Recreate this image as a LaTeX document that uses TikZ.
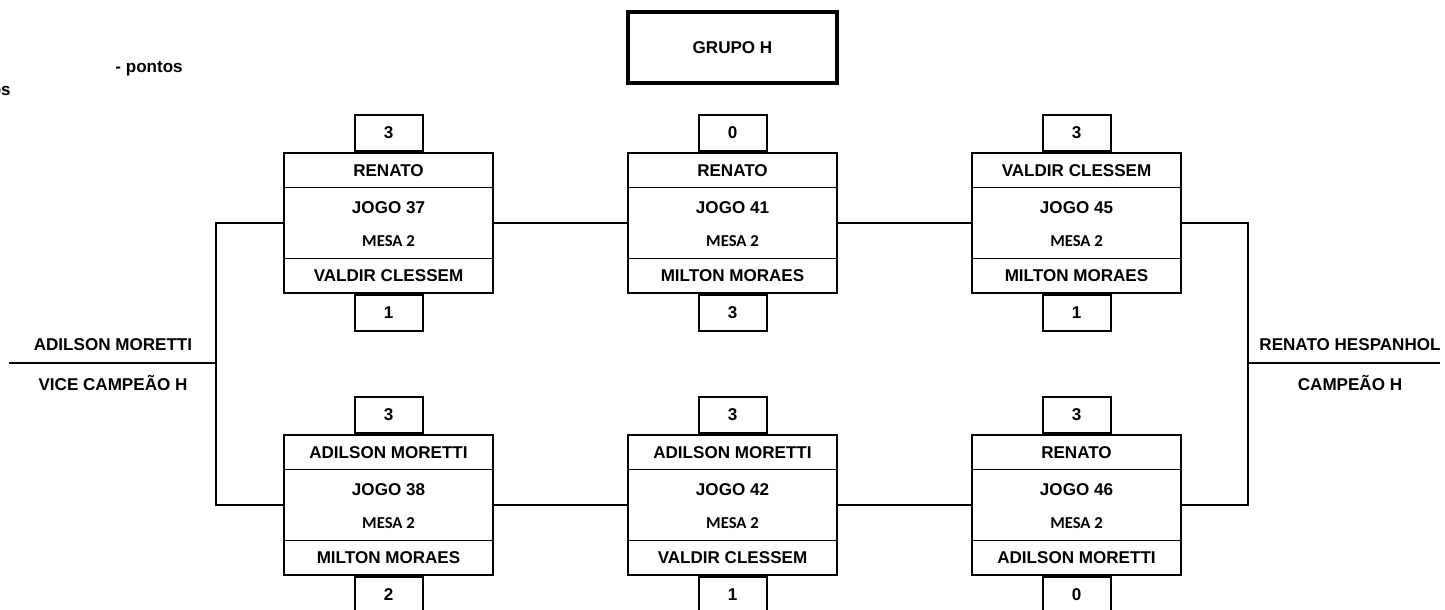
\documentclass[tikz,border=0pt]{standalone}
\usepackage{fontspec}
\setmainfont{Liberation Sans}
\newfontfamily\calibri{Carlito}
\usetikzlibrary{positioning}

% one match: name, x, y, top player, game number, bottom player, top score, bottom score
\newcommand{\jogo}[8]{%
    \node[caixa] (#1) at (#2,#3) {};
    \node[linha,below=0pt of #1.north] (#1a) {#4};
    \node[linha,above=0pt of #1.south] (#1b) {#6};
    \node[texto] (#1n) at (#2,#3-15) {JOGO #5};
    \node[mesa] (#1m) at (#2,#3+18) {MESA 2};
    \node[placar,above=0pt of #1] (#1s) {#7};
    \node[placar,below=0pt of #1] (#1t) {#8};
}

\begin{document}
\begin{tikzpicture}[x=0.75pt,y=-0.75pt,
    texto/.style={inner sep=0pt,font=\fontsize{12.8}{15}\selectfont\bfseries},
    mesa/.style={inner sep=0pt,font=\calibri\fontsize{12.5}{14}\selectfont\bfseries},
    caixa/.style={draw,line width=1.5pt,minimum width=156.75pt,minimum height=105pt},
    linha/.style={texto,draw,line width=0.75pt,minimum width=156.75pt,minimum height=26.6pt},
    placar/.style={texto,draw,line width=1.5pt,minimum width=51pt,minimum height=27pt},
    grupo/.style={texto,draw,line width=3pt,minimum width=156.75pt,minimum height=53.25pt},
    liga/.style={line width=1.5pt}]
    \useasboundingbox (0,0) rectangle (1445,610);

    \node[texto,anchor=east] (nota1) at (183,69) {- pontos};
    \node[texto,anchor=east] (nota2) at (11,91) {os};

    \node[grupo] (grupo) at (732.5,47.5) {GRUPO H};

    \jogo{j37}{388.5}{223}{RENATO}{37}{VALDIR CLESSEM}{3}{1}
    \jogo{j41}{732.5}{223}{RENATO}{41}{MILTON MORAES}{0}{3}
    \jogo{j45}{1076.5}{223}{VALDIR CLESSEM}{45}{MILTON MORAES}{3}{1}
    \jogo{j38}{388.5}{505}{ADILSON MORETTI}{38}{MILTON MORAES}{3}{2}
    \jogo{j42}{732.5}{505}{ADILSON MORETTI}{42}{VALDIR CLESSEM}{3}{1}
    \jogo{j46}{1076.5}{505}{RENATO}{46}{ADILSON MORETTI}{3}{0}

    \draw[liga] (j37) -- (j41);
    \draw[liga] (j41) -- (j45);
    \draw[liga] (j38) -- (j42);
    \draw[liga] (j42) -- (j46);

    \coordinate (esq) at (216,363);
    \coordinate (esqfim) at (9,363);
    \coordinate (dir) at (1248,363);
    \coordinate (dirfim) at (1440,363);
    \draw[liga] (j37.west) -| (esq) |- (j38.west);
    \draw[liga] (j45.east) -| (dir) |- (j46.east);
    \draw[liga] (esq) -- (esqfim);
    \draw[liga] (dir) -- (dirfim);

    \node[texto] (vice) at (113,345) {ADILSON MORETTI};
    \node[texto] (vicetit) at (113,383) {VICE CAMPEÃO H};
    \node[texto] (campeao) at (1350,345) {RENATO HESPANHOL};
    \node[texto] (campeaotit) at (1350,383) {CAMPEÃO H};
\end{tikzpicture}
\end{document}
